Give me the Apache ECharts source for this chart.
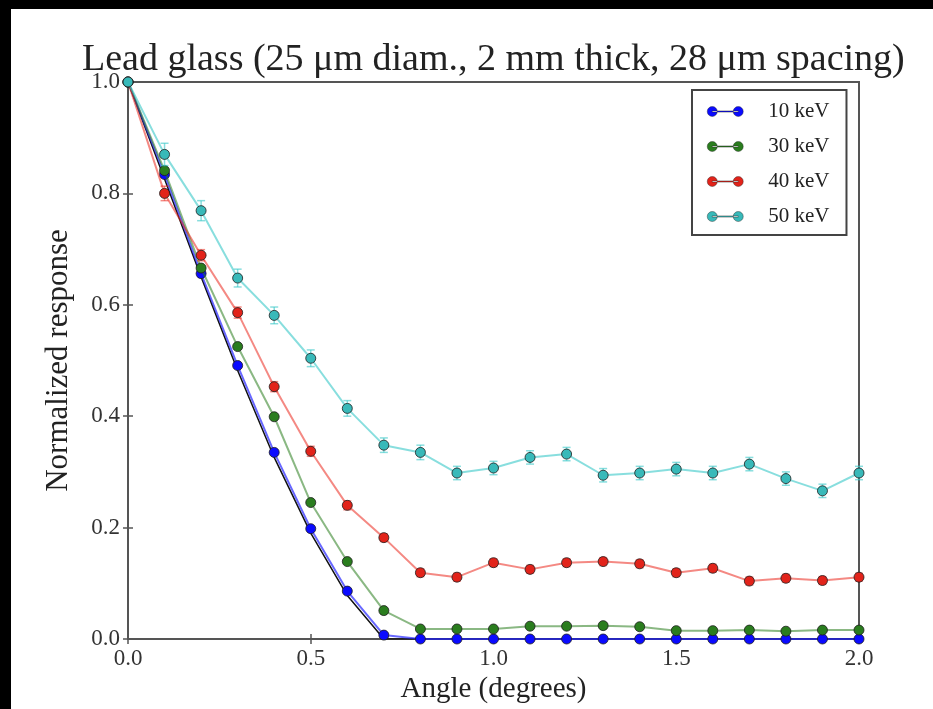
<!DOCTYPE html>
<html>
<head>
<meta charset="utf-8">
<script src="https://cdn.jsdelivr.net/npm/echarts@6/dist/echarts.min.js"></script>
<style>
  html, body { margin: 0; padding: 0; background: #000; }
  #chart { position: absolute; left: 11px; top: 9px; width: 922px; height: 700px; background: #fff; }
</style>
</head>
<body>
<div id="chart"></div>
<script>
// angle in degrees
const angles = [0, 0.1, 0.2, 0.3, 0.4, 0.5, 0.6, 0.7, 0.8, 0.9, 1.0, 1.1, 1.2, 1.3, 1.4, 1.5, 1.6, 1.7, 1.8, 1.9, 2.0]

const resp10 = [1.0, 0.834, 0.656, 0.491, 0.335, 0.198, 0.086, 0.007, 0.0, 0.0, 0.0, 0.0, 0.0, 0.0, 0.0, 0.0, 0.0, 0.0, 0.0, 0.0, 0.0]
const resp30 = [1.0, 0.841, 0.666, 0.525, 0.399, 0.245, 0.139, 0.051, 0.018, 0.018, 0.018, 0.023, 0.023, 0.024, 0.022, 0.015, 0.015, 0.016, 0.014, 0.016, 0.016]
const resp40 = [1.0, 0.800, 0.689, 0.586, 0.453, 0.337, 0.240, 0.182, 0.119, 0.111, 0.137, 0.125, 0.137, 0.139, 0.135, 0.119, 0.127, 0.104, 0.109, 0.105, 0.111]
const resp50 = [1.0, 0.870, 0.769, 0.648, 0.581, 0.504, 0.414, 0.348, 0.335, 0.298, 0.307, 0.326, 0.332, 0.294, 0.298, 0.305, 0.298, 0.314, 0.288, 0.266, 0.298]
// black geometric curve drawn underneath the 10 keV data
const model = [1.0, 0.826, 0.650, 0.482, 0.326, 0.190, 0.078, 0.0, 0.0, 0.0, 0.0, 0.0, 0.0, 0.0, 0.0, 0.0, 0.0, 0.0, 0.0, 0.0, 0.0]

// error bars (half-length)
const err40 = [0, 0.013, 0.010, 0.010, 0.009, 0.009, 0.008, 0.007, 0.007, 0.007, 0.007, 0.007, 0.007, 0.007, 0.007, 0.007, 0.007, 0.007, 0.007, 0.007, 0.007]
const err50 = [0, 0.020, 0.018, 0.016, 0.015, 0.015, 0.014, 0.013, 0.013, 0.012, 0.012, 0.012, 0.012, 0.012, 0.012, 0.012, 0.012, 0.012, 0.012, 0.012, 0.012]

const names = ['10 keV', '30 keV', '40 keV', '50 keV']
const markerColors = ['#0a0aff', '#2a7d1e', '#e2231a', '#38b9b9']
const lineColors = ['rgba(40,40,255,0.7)', 'rgba(42,125,30,0.55)', 'rgba(235,40,30,0.55)', 'rgba(56,200,200,0.6)']

const FONT = '"Liberation Serif", "DejaVu Serif", serif'

const pairs = (ys) => angles.map((a, i) => [a, ys[i]])
const errPairs = (ys, es) => angles.map((a, i) => [a, ys[i], es[i]])

function lineSeries(name, ys, idx) {
  return {
    name,
    type: 'line',
    data: pairs(ys),
    symbol: 'circle',
    symbolSize: 10,
    z: 3 + idx,
    lineStyle: { color: lineColors[idx], width: 2 },
    itemStyle: { color: markerColors[idx], borderColor: 'rgba(30,30,30,0.8)', borderWidth: 1 },
    emphasis: { disabled: true },
  }
}

function errSeries(ys, es, idx) {
  return {
    type: 'custom',
    data: errPairs(ys, es),
    z: 3 + idx,
    silent: true,
    renderItem: (params, api) => {
      const x = api.value(0), y = api.value(1), e = api.value(2)
      if (!e) return null
      const top = api.coord([x, y + e])
      const bot = api.coord([x, y - e])
      const w = 4
      const style = { stroke: lineColors[idx], lineWidth: 1.5 }
      return {
        type: 'group',
        children: [
          { type: 'line', shape: { x1: top[0], y1: top[1], x2: bot[0], y2: bot[1] }, style },
          { type: 'line', shape: { x1: top[0] - w, y1: top[1], x2: top[0] + w, y2: top[1] }, style },
          { type: 'line', shape: { x1: bot[0] - w, y1: bot[1], x2: bot[0] + w, y2: bot[1] }, style },
        ],
      }
    },
  }
}

const legendIcon = 'path://M0,5a5,5 0 1,0 10,0a5,5 0 1,0 -10,0Z M26,5a5,5 0 1,0 10,0a5,5 0 1,0 -10,0Z M5,4.4H31V5.6H5Z'

const tickAxis = {
  axisLine: { show: false },
  axisTick: { show: true, inside: true, length: 5, lineStyle: { color: '#555', width: 1.5 } },
  splitLine: { show: false },
}

const chart = echarts.init(document.getElementById('chart'))
chart.setOption({
  animation: false,
  textStyle: { fontFamily: FONT },
  title: {
    text: 'Lead glass (25 \u03bcm diam., 2 mm thick, 28 \u03bcm spacing)',
    left: 66,
    top: 27,
    textStyle: { fontFamily: FONT, fontSize: 38, fontWeight: 'normal', color: '#222' },
  },
  grid: { left: 117, right: 74, top: 73, bottom: 66, show: true, borderColor: '#555', borderWidth: 2, backgroundColor: 'transparent' },
  legend: {
    data: names.map(n => ({ name: n, icon: legendIcon })),
    orient: 'vertical',
    left: 681,
    top: 81,
    itemWidth: 36,
    itemHeight: 10,
    itemGap: 14,
    padding: [11, 17, 8, 15],
    borderColor: '#444',
    borderWidth: 2,
    backgroundColor: '#fff',
    itemStyle: { borderWidth: 0.5 },
    textStyle: { fontFamily: FONT, fontSize: 21, color: '#222', padding: [0, 0, 0, 20] },
    selectedMode: false,
  },
  xAxis: [
    {
      type: 'value', min: 0, max: 2, interval: 0.5,
      name: 'Angle (degrees)', nameLocation: 'middle', nameGap: 36,
      nameTextStyle: { fontFamily: FONT, fontSize: 29, color: '#222' },
      axisLabel: { fontFamily: FONT, fontSize: 23, color: '#333', margin: 8, formatter: v => v.toFixed(1) },
      ...tickAxis,
    },
    {
      type: 'value', min: 0, max: 2, interval: 0.5, position: 'top',
      axisLabel: { show: false },
      ...tickAxis,
    },
  ],
  yAxis: [
    {
      type: 'value', min: 0, max: 1, interval: 0.2,
      name: 'Normalized response', nameLocation: 'middle', nameGap: 54,
      nameTextStyle: { fontFamily: FONT, fontSize: 31, color: '#222' },
      axisLabel: { fontFamily: FONT, fontSize: 23, color: '#333', margin: 8, formatter: v => v.toFixed(1) },
      ...tickAxis,
    },
    {
      type: 'value', min: 0, max: 1, interval: 0.2, position: 'right',
      axisLabel: { show: false },
      ...tickAxis,
    },
  ],
  series: [
    {
      type: 'line',
      data: pairs(model),
      symbol: 'none',
      z: 2,
      lineStyle: { color: '#111', width: 1.5 },
      silent: true,
    },
    lineSeries(names[0], resp10, 0),
    lineSeries(names[1], resp30, 1),
    errSeries(resp40, err40, 2),
    lineSeries(names[2], resp40, 2),
    errSeries(resp50, err50, 3),
    lineSeries(names[3], resp50, 3),
  ],
})
</script>
</body>
</html>
